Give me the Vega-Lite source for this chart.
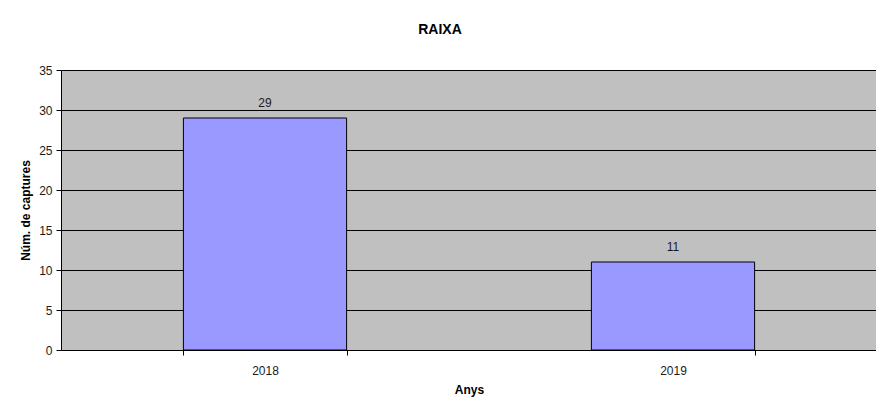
{
  "$schema": "https://vega.github.io/schema/vega-lite/v6.json",
  "width": 816,
  "height": 280,
  "autosize": {"type": "none"},
  "padding": {"left": 61, "top": 70, "right": 0, "bottom": 55},
  "background": "#ffffff",
  "title": {
    "text": "RAIXA",
    "font": "Liberation Sans",
    "fontSize": 14,
    "fontWeight": "bold",
    "color": "#000000",
    "anchor": "middle",
    "dx": -29,
    "offset": 27
  },
  "data": {
    "values": [
      {"any": "2018", "captures": 29},
      {"any": "2019", "captures": 11}
    ]
  },
  "config": {
    "view": {"fill": "#c0c0c0", "stroke": null},
    "font": "Liberation Sans",
    "axis": {
      "labelFont": "Liberation Sans",
      "titleFont": "Liberation Sans",
      "labelColor": "#1a1a1a",
      "titleColor": "#000000",
      "labelFontSize": 12,
      "titleFontSize": 12,
      "titleFontWeight": "bold",
      "domainColor": "#000000",
      "tickColor": "#000000"
    }
  },
  "encoding": {
    "x": {
      "field": "any",
      "type": "nominal",
      "scale": {"paddingInner": 0.6, "paddingOuter": 0.3},
      "axis": {
        "title": "Anys",
        "labelAngle": 0,
        "labelPadding": 10,
        "titlePadding": 8,
        "tickBand": "extent",
        "tickSize": 5,
        "grid": false
      }
    },
    "y": {
      "field": "captures",
      "type": "quantitative",
      "scale": {"domain": [0, 35], "nice": false},
      "axis": {
        "title": "Núm. de captures",
        "values": [0, 5, 10, 15, 20, 25, 30, 35],
        "tickSize": 5,
        "labelPadding": 4,
        "titlePadding": 6,
        "grid": true,
        "gridColor": "#000000",
        "gridOpacity": 1,
        "gridWidth": 1
      }
    }
  },
  "layer": [
    {
      "mark": {"type": "bar", "fill": "#9999ff", "stroke": "#000000", "strokeWidth": 1}
    },
    {
      "mark": {"type": "text", "baseline": "bottom", "dy": -8, "fontSize": 12, "color": "#1a1a1a"},
      "encoding": {"text": {"field": "captures", "type": "quantitative"}}
    }
  ]
}
